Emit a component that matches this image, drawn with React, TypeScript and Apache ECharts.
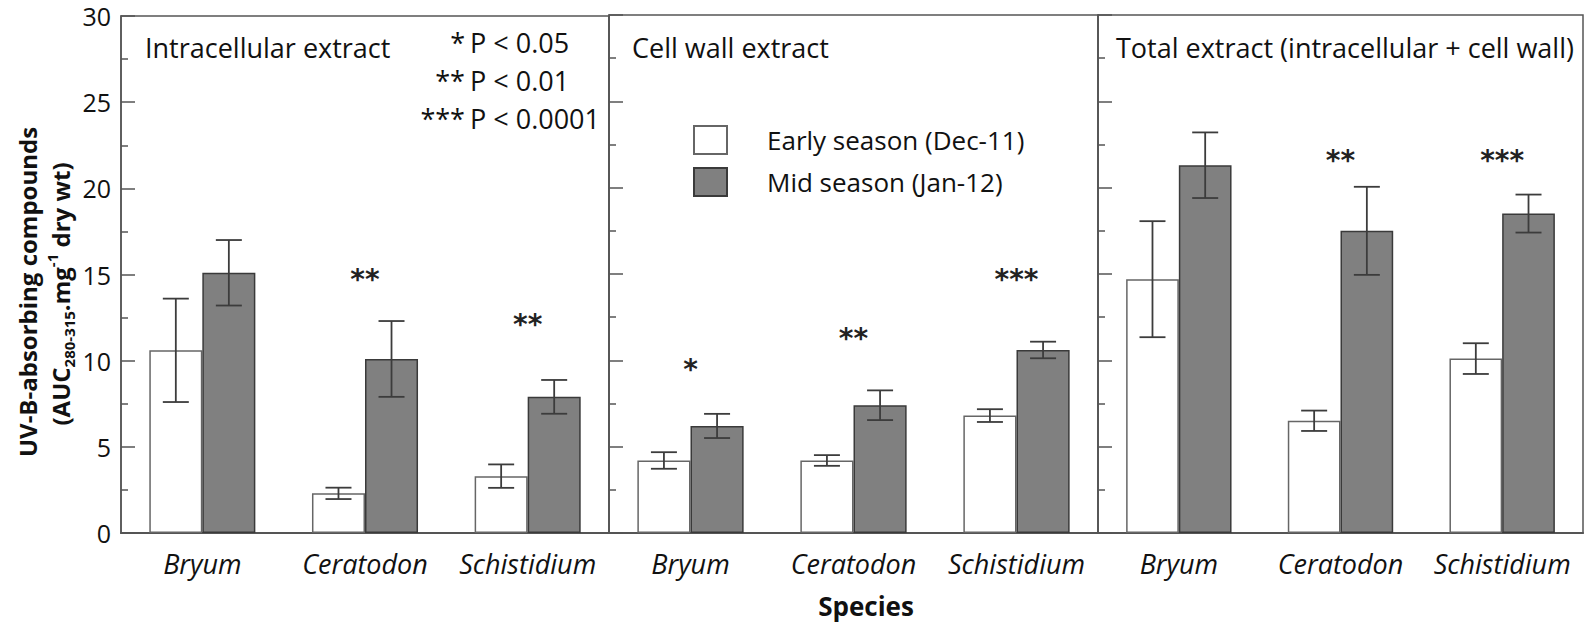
import React, { useEffect, useRef } from "react";
import * as echarts from "echarts";

const categories = ["Bryum", "Ceratodon", "Schistidium"];
const seasonNames = ["Early season (Dec-11)", "Mid season (Jan-12)"];
const panelTitles = ["Intracellular extract", "Cell wall extract", "Total extract (intracellular + cell wall)"];

const intraEarly = [10.6, 2.3, 3.3];
const intraEarlyErr = [3.0, 0.33, 0.68];
const intraMid = [15.1, 10.1, 7.9];
const intraMidErr = [1.9, 2.2, 0.98];

const wallEarly = [4.2, 4.2, 6.8];
const wallEarlyErr = [0.48, 0.31, 0.37];
const wallMid = [6.2, 7.4, 10.6];
const wallMidErr = [0.7, 0.86, 0.48];

const totalEarly = [14.7, 6.5, 10.1];
const totalEarlyErr = [3.36, 0.59, 0.89];
const totalMid = [21.3, 17.5, 18.5];
const totalMidErr = [1.9, 2.55, 1.1];

const intraStars = ["", "**", "**"];
const intraStarY = [0, 15.1, 12.5];
const wallStars = ["*", "**", "***"];
const wallStarY = [9.85, 11.65, 15.1];
const totalStars = ["", "**", "***"];
const totalStarY = [0, 22.0, 22.0];

const pStars = ["*", "**", "***"];
const pTexts = ["P < 0.05", "P < 0.01", "P < 0.0001"];

const yTicks = { min: 0, max: 30, interval: 5 };

const FONT = '"Open Sans", sans-serif';

const panels = [
  { early: intraEarly, earlyErr: intraEarlyErr, mid: intraMid, midErr: intraMidErr, stars: intraStars, starY: intraStarY },
  { early: wallEarly, earlyErr: wallEarlyErr, mid: wallMid, midErr: wallMidErr, stars: wallStars, starY: wallStarY },
  { early: totalEarly, earlyErr: totalEarlyErr, mid: totalMid, midErr: totalMidErr, stars: totalStars, starY: totalStarY },
];

const BAR_FRAC = 0.326;

function errRender(params: any, api: any) {
  const cat = api.value(0);
  const lo = api.value(1);
  const hi = api.value(2);
  const side = api.value(3);
  const band = api.size([1, 0])[0];
  const pLo = api.coord([cat, lo]);
  const pHi = api.coord([cat, hi]);
  const x = pLo[0] + side * band * BAR_FRAC * 0.5;
  const half = 13;
  const style = { stroke: "#3c3c3c", lineWidth: 1.8 };
  return {
    type: "group",
    children: [
      { type: "line", shape: { x1: x, y1: pLo[1], x2: x, y2: pHi[1] }, style },
      { type: "line", shape: { x1: x - half, y1: pLo[1], x2: x + half, y2: pLo[1] }, style },
      { type: "line", shape: { x1: x - half, y1: pHi[1], x2: x + half, y2: pHi[1] }, style },
    ],
  };
}

function makeStarRender(stars: string[]) {
  return (params: any, api: any) => {
    const s = stars[params.dataIndex];
    if (!s) return { type: "group", children: [] };
    const p = api.coord([api.value(0), api.value(1)]);
    return {
      type: "text",
      x: p[0],
      y: p[1] + 7,
      style: {
        text: s,
        align: "center",
        verticalAlign: "middle",
        fontSize: 28,
        fontWeight: "bold",
        fontFamily: '"DejaVu Sans", sans-serif',
        fill: "#222",
      },
    };
  };
}

export default function App() {
  const ref = useRef<HTMLDivElement>(null);

  useEffect(() => {
    if (!ref.current) return;
    const chart = echarts.init(ref.current, undefined, { renderer: "svg" });

    const gridDefs = [
      { left: 121, width: 488 },
      { left: 609, width: 489 },
      { left: 1098, width: 485 },
    ];

    const grid = gridDefs.map((g) => ({
      left: g.left,
      width: g.width,
      top: 15,
      height: 518,
      show: true,
      borderColor: "#555",
      borderWidth: 1.5,
      containLabel: false,
    }));

    const xAxis = gridDefs.map((_, i) => ({
      type: "category",
      gridIndex: i,
      data: categories,
      axisTick: { show: false },
      axisLine: { lineStyle: { color: "#555", width: 2 } },
      axisLabel: {
        interval: 0,
        hideOverlap: false,
        fontStyle: "italic",
        fontSize: 27,
        fontFamily: FONT,
        color: "#111",
        margin: 17,
      },
    }));

    const yAxis = gridDefs.map((_, i) => ({
      type: "value",
      gridIndex: i,
      min: yTicks.min,
      max: yTicks.max,
      interval: yTicks.interval,
      splitLine: { show: false },
      axisLine: { show: true, lineStyle: { color: "#555", width: 1.5 } },
      axisTick: { show: true, inside: true, length: 14, lineStyle: { color: "#555", width: 1.5 } },
      minorTick: { show: true, splitNumber: 2, length: 7, lineStyle: { color: "#555", width: 1.5 } },
      axisLabel: {
        show: i === 0,
        fontSize: 25,
        lineHeight: 20,
        padding: [12, 0, 0, 0],
        fontFamily: FONT,
        color: "#111",
        margin: 10,
      },
    }));

    const series: any[] = [];
    panels.forEach((p, i) => {
      series.push({
        type: "bar",
        name: seasonNames[0],
        xAxisIndex: i,
        yAxisIndex: i,
        data: p.early,
        barWidth: (BAR_FRAC * 100).toFixed(1) + "%",
        barGap: "0%",
        itemStyle: { color: "#ffffff", borderColor: "#666", borderWidth: 1.5 },
      });
      series.push({
        type: "bar",
        name: seasonNames[1],
        xAxisIndex: i,
        yAxisIndex: i,
        data: p.mid,
        barWidth: (BAR_FRAC * 100).toFixed(1) + "%",
        barGap: "0%",
        itemStyle: { color: "#808080", borderColor: "#3a3a3a", borderWidth: 1.5 },
      });
      const errData = [
        ...p.early.map((v, k) => [k, v - p.earlyErr[k], v + p.earlyErr[k], -1]),
        ...p.mid.map((v, k) => [k, v - p.midErr[k], v + p.midErr[k], 1]),
      ];
      series.push({
        type: "custom",
        xAxisIndex: i,
        yAxisIndex: i,
        renderItem: errRender,
        data: errData,
        encode: { x: 0, y: [1, 2] },
        z: 5,
        silent: true,
      });
      series.push({
        type: "custom",
        xAxisIndex: i,
        yAxisIndex: i,
        renderItem: makeStarRender(p.stars),
        data: p.starY.map((y, k) => [k, y]),
        encode: { x: 0, y: 1 },
        z: 6,
        silent: true,
      });
    });

    const textFill = "#111";
    const graphic: any[] = [
      {
        type: "text",
        x: 145,
        y: 47,
        style: { text: panelTitles[0], font: `27px ${FONT}`, fill: textFill, align: "left", verticalAlign: "middle" },
      },
      {
        type: "text",
        x: 632,
        y: 47,
        style: { text: panelTitles[1], font: `27px ${FONT}`, fill: textFill, align: "left", verticalAlign: "middle" },
      },
      {
        type: "text",
        x: 1116,
        y: 47,
        style: { text: panelTitles[2], font: `27px ${FONT}`, fill: textFill, align: "left", verticalAlign: "middle" },
      },
      ...pStars.map((s, k) => ({
        type: "text",
        x: 465,
        y: 42 + k * 38,
        style: { text: s, font: `27px ${FONT}`, fill: textFill, align: "right", verticalAlign: "middle" },
      })),
      ...pTexts.map((s, k) => ({
        type: "text",
        x: 470,
        y: 42 + k * 38,
        style: { text: s, font: `27px ${FONT}`, fill: textFill, align: "left", verticalAlign: "middle" },
      })),
      {
        type: "text",
        x: 27,
        y: 292,
        rotation: Math.PI / 2,
        style: {
          text: "UV-B-absorbing compounds",
          font: `bold 24px ${FONT}`,
          fill: textFill,
          align: "center",
          verticalAlign: "middle",
        },
      },
      {
        type: "text",
        x: 60,
        y: 294,
        rotation: Math.PI / 2,
        style: {
          text: "{a|(AUC}{b|280-315}{a|.mg}{c|-1}{a| dry wt)}",
          align: "center",
          verticalAlign: "middle",
          fill: textFill,
          rich: {
            a: { fontSize: 24, fontWeight: "bold", fontFamily: FONT, lineHeight: 32, fill: textFill },
            b: { fontSize: 15, fontWeight: "bold", fontFamily: FONT, verticalAlign: "bottom", lineHeight: 18, fill: textFill },
            c: { fontSize: 15, fontWeight: "bold", fontFamily: FONT, verticalAlign: "top", lineHeight: 18, fill: textFill },
          },
        },
      },
      {
        type: "text",
        x: 866,
        y: 606,
        style: { text: "Species", font: `bold 26px ${FONT}`, fill: textFill, align: "center", verticalAlign: "middle" },
      },
    ];

    chart.setOption({
      animation: false,
      backgroundColor: "#ffffff",
      grid,
      xAxis,
      yAxis,
      legend: {
        data: seasonNames,
        orient: "vertical",
        left: 693,
        top: 125,
        itemWidth: 33,
        itemHeight: 28,
        itemGap: 12,
        icon: "rect",
        padding: 0,
        textStyle: { fontSize: 26, fontFamily: FONT, color: textFill, padding: [0, 0, 0, 35] },
        selectedMode: false,
      },
      series,
      graphic,
    });

    return () => {
      chart.dispose();
    };
  }, []);

  return (
    <div
      ref={ref}
      style={{ position: "absolute", left: 0, top: 0, width: 1595, height: 627 }}
    />
  );
}
